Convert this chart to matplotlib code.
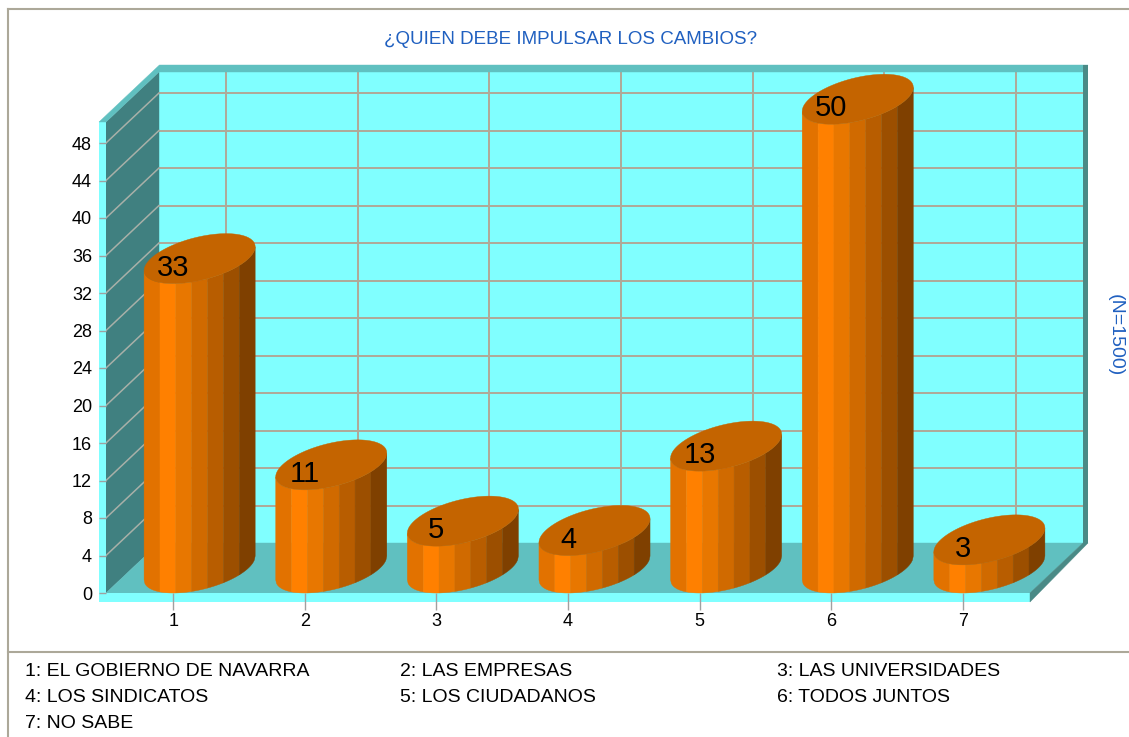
import numpy as np
import matplotlib
matplotlib.use("Agg")
import matplotlib.pyplot as plt
from matplotlib.patches import Polygon, Rectangle
from matplotlib.lines import Line2D

plt.rcParams['font.family'] = ['Liberation Sans', 'DejaVu Sans']

# data
cats = [1, 2, 3, 4, 5, 6, 7]
values = [33, 11, 5, 4, 13, 50, 3]
xlabels = ['1', '2', '3', '4', '5', '6', '7']
yticks = list(range(0, 49, 4))
legend_items = ["1: EL GOBIERNO DE NAVARRA", "2: LAS EMPRESAS", "3: LAS UNIVERSIDADES",
                "4: LOS SINDICATOS", "5: LOS CIUDADANOS", "6: TODOS JUNTOS",
                "7: NO SABE"]
title = "¿QUIEN DEBE IMPULSAR LOS CAMBIOS?"
note = "(N=1500)"

# style
CYAN, TEAL, DARK, SIDE = '#80ffff', '#60c0c0', '#408080', '#4a8a86'
GRID, WGRID, BLUE = '#b0a898', '#a8b0a8', '#2060c0'
stripes = ['#e27200', '#ff8000', '#e87700', '#d06a00', '#b85d00', '#9c4f00', '#7f4000']
top_col = '#c46400'

W, H = 1129, 737
fig = plt.figure(figsize=(W/100, H/100), dpi=100)
fig.patch.set_facecolor('white')
ax = fig.add_axes([106/W, (H-593)/H, 924/W, 471/H])
x0, x1, YT = 0.49, 7.51, 50.24
ax.set_xlim(x0, x1); ax.set_ylim(0, YT)
pxx = 924/(x1-x0); pxy = 471/YT
DX, DY = 53/pxx, 50/pxy           # depth offset
TX, TY = 7/pxx, 9/pxy              # slab thickness
RX, RIM = 5/pxx, 7/pxy

def poly(pts, c, z):
    ax.add_patch(Polygon(pts, closed=True, facecolor=c, edgecolor=c, lw=0.3, zorder=z, clip_on=False))

# back wall + grid
poly([(x0+DX, DY), (x1+DX, DY), (x1+DX, YT+DY), (x0+DX, YT+DY)], CYAN, 0.1)
for v in yticks[1:]:
    ax.plot([x0+DX, x1+DX], [v+DY]*2, color=GRID, lw=1.4, zorder=0.2, clip_on=False)
for c in cats:
    ax.plot([c+DX]*2, [DY, YT+DY], color=GRID, lw=1.4, zorder=0.2, clip_on=False)
# left wall + grid
poly([(x0, 0), (x0+DX, DY), (x0+DX, YT+DY), (x0, YT)], DARK, 0.3)
for v in yticks[1:]:
    ax.plot([x0, x0+DX], [v, v+DY], color=WGRID, lw=1.1, zorder=0.35, clip_on=False)
# floor
poly([(x0, 0), (x1, 0), (x1+DX, DY), (x0+DX, DY)], TEAL, 0.4)
# edges of the box
ax.add_patch(Rectangle((x0-TX, -TY), TX, YT+TY, fc=CYAN, ec='none', zorder=0.5, clip_on=False))
ax.add_patch(Rectangle((x0-TX, -TY), x1-x0+TX, TY, fc=CYAN, ec='none', zorder=0.5, clip_on=False))
poly([(x0-TX, YT), (x0, YT), (x0+DX, YT+DY), (x1+DX, YT+DY), (x1+DX+RX, YT+DY+RIM),
      (x0-TX+DX*(DY+RIM)/DY, YT+DY+RIM)], TEAL, 0.5)
ax.add_patch(Rectangle((x1+DX, DY), RX, YT+RIM, fc=SIDE, ec='none', zorder=0.5, clip_on=False))
poly([(x1, -TY), (x1, 0), (x1+DX, DY), (x1+DX+RX, DY)], SIDE, 0.5)

# cylinders
r = 48.8/pxx
phi = np.arctan2(DX/2, r)
def pt(cx, cy, th):
    return np.column_stack([cx + r*np.cos(th) + DX/2*np.sin(th), cy + DY/2*np.sin(th)])
ub = np.linspace(-1, 1, len(stripes)+1)
for c, v in zip(cats, values):
    cx = c + DX/2
    for k, col in enumerate(stripes):
        u = np.linspace(ub[k], ub[k+1], 20)
        th = 2*np.pi - np.arccos(u) + phi
        bot = pt(cx, DY/2, th)
        top = pt(cx, DY/2 + v, th)[::-1]
        poly(np.vstack([bot, top]), col, 3)
    poly(pt(cx, DY/2 + v, np.linspace(0, 2*np.pi, 120)), top_col, 3.1)
    ax.text(c, v + 1.7, str(v), fontsize=21, ha='center', va='center', zorder=6)

# axes
ax.set_xticks(cats, xlabels)
ax.set_yticks(yticks)
for s in ax.spines.values():
    s.set_visible(False)
ax.patch.set_visible(False)
ax.tick_params(axis='y', length=5, width=1, color='#a0a0a0', pad=5, labelsize=13)
ax.tick_params(axis='x', length=12, width=1, color='#a0a0a0', pad=2.5, labelsize=13)

# texts
fig.text(571/W, 1-39/H, title, color=BLUE, fontsize=13.5, ha='center', va='center')
fig.text(1115/W, 1-335/H, note, color=BLUE, fontsize=14, rotation=-90, ha='center', va='center')
colx = [25, 400, 777]; rowy = [672, 698, 724]
for k, t in enumerate(legend_items):
    fig.text(colx[k % 3]/W, 1-rowy[k//3]/H, t, fontsize=14, ha='left', va='center')

# frame lines
bc = '#aca899'
fig.add_artist(Line2D([8/W, 1], [1-9/H]*2, color=bc, lw=1.5))
fig.add_artist(Line2D([8/W]*2, [0, 1-9/H], color=bc, lw=1.5))
fig.add_artist(Line2D([8/W, 1], [1-652/H]*2, color=bc, lw=1.5))

fig.savefig("out.png", dpi=100)
